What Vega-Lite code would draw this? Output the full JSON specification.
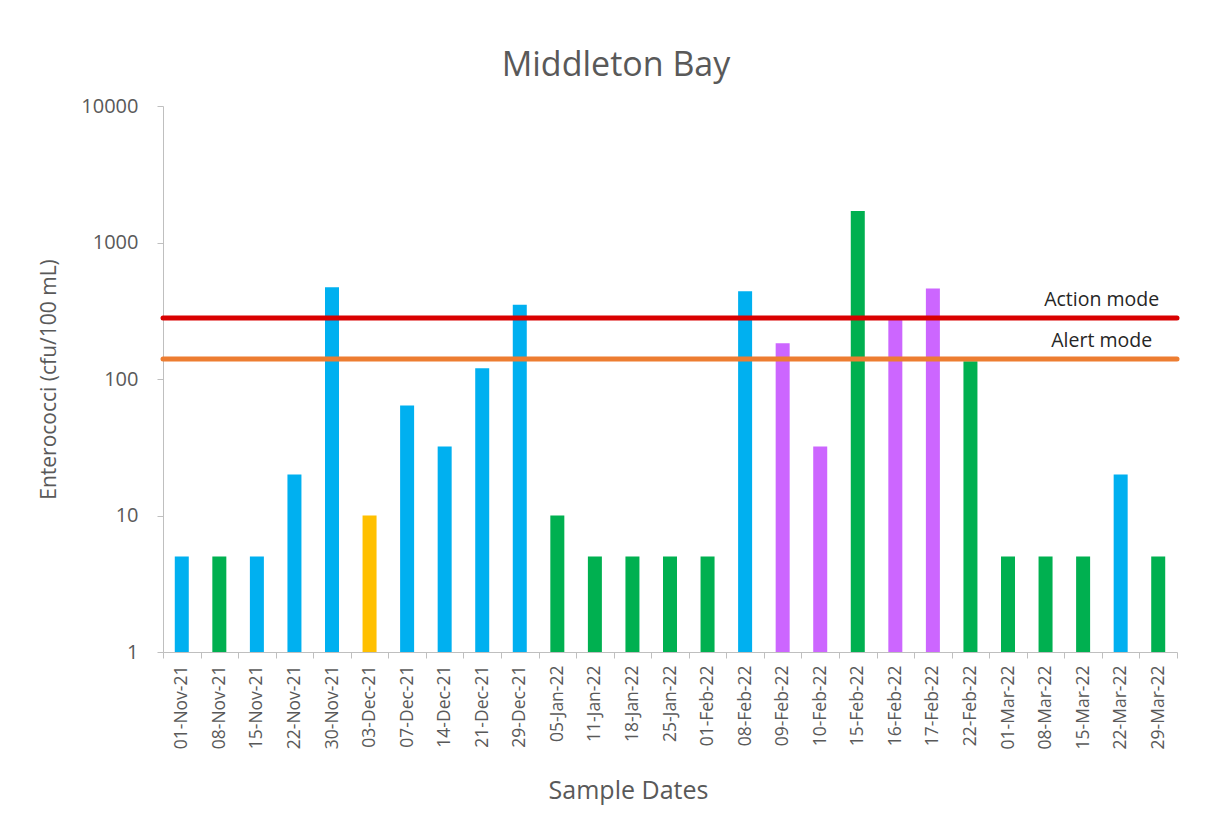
{
  "$schema": "https://vega.github.io/schema/vega-lite/v6.json",
  "width": 1014,
  "height": 546,
  "autosize": {"type": "none"},
  "padding": {"left": 163, "top": 106, "right": 47, "bottom": 185},
  "background": "white",
  "config": {"view": {"stroke": null}, "font": "Open Sans"},
  "title": {"text": "Middleton Bay", "fontSize": 34, "fontWeight": "normal", "color": "#595959", "anchor": "middle", "dx": -54, "offset": 13, "font": "Open Sans"},
  "datasets": {
    "samples": [
      {"date": "01-Nov-21", "enterococci": 5, "category": "A"},
      {"date": "08-Nov-21", "enterococci": 5, "category": "B"},
      {"date": "15-Nov-21", "enterococci": 5, "category": "A"},
      {"date": "22-Nov-21", "enterococci": 20, "category": "A"},
      {"date": "30-Nov-21", "enterococci": 470, "category": "A"},
      {"date": "03-Dec-21", "enterococci": 10, "category": "C"},
      {"date": "07-Dec-21", "enterococci": 64, "category": "A"},
      {"date": "14-Dec-21", "enterococci": 32, "category": "A"},
      {"date": "21-Dec-21", "enterococci": 120, "category": "A"},
      {"date": "29-Dec-21", "enterococci": 350, "category": "A"},
      {"date": "05-Jan-22", "enterococci": 10, "category": "B"},
      {"date": "11-Jan-22", "enterococci": 5, "category": "B"},
      {"date": "18-Jan-22", "enterococci": 5, "category": "B"},
      {"date": "25-Jan-22", "enterococci": 5, "category": "B"},
      {"date": "01-Feb-22", "enterococci": 5, "category": "B"},
      {"date": "08-Feb-22", "enterococci": 440, "category": "A"},
      {"date": "09-Feb-22", "enterococci": 183, "category": "D"},
      {"date": "10-Feb-22", "enterococci": 32, "category": "D"},
      {"date": "15-Feb-22", "enterococci": 1700, "category": "B"},
      {"date": "16-Feb-22", "enterococci": 270, "category": "D"},
      {"date": "17-Feb-22", "enterococci": 460, "category": "D"},
      {"date": "22-Feb-22", "enterococci": 135, "category": "B"},
      {"date": "01-Mar-22", "enterococci": 5, "category": "B"},
      {"date": "08-Mar-22", "enterococci": 5, "category": "B"},
      {"date": "15-Mar-22", "enterococci": 5, "category": "B"},
      {"date": "22-Mar-22", "enterococci": 20, "category": "A"},
      {"date": "29-Mar-22", "enterococci": 5, "category": "B"}
    ],
    "thresholds": [
      {"label": "Action mode", "value": 280},
      {"label": "Alert mode", "value": 140}
    ]
  },
  "layer": [
    {
      "data": {"name": "samples"},
      "mark": {"type": "bar", "size": 14},
      "encoding": {
        "x": {
          "field": "date", "type": "nominal", "sort": null,
          "scale": {"paddingInner": 0, "paddingOuter": 0},
          "axis": {
            "title": "Sample Dates", "labelAngle": -90, "tickBand": "extent", "ticks": true, "tickSize": 6,
            "labelPadding": 7, "labelFontSize": 17.5, "labelColor": "#595959", "labelFont": "Open Sans",
            "titleFontSize": 25, "titleFontWeight": "normal", "titleColor": "#595959", "titleFont": "Open Sans", "titlePadding": 30,
            "titleX": 465,
            "domainColor": "#BFBFBF", "tickColor": "#BFBFBF", "grid": false
          }
        },
        "y": {
          "field": "enterococci", "type": "quantitative",
          "scale": {"type": "log", "domain": [1, 10000]},
          "axis": {
            "title": "Enterococci (cfu/100 mL)", "values": [1, 10, 100, 1000, 10000], "format": "d",
            "grid": false, "tickSize": 6, "labelPadding": 19, "labelFontSize": 20, "labelColor": "#595959", "labelFont": "Open Sans",
            "titleFontSize": 21, "titleFontWeight": "normal", "titleColor": "#595959", "titleFont": "Open Sans", "titlePadding": 21,
            "domainColor": "#BFBFBF", "tickColor": "#BFBFBF"
          }
        },
        "y2": {"datum": 1},
        "color": {
          "field": "category", "type": "nominal",
          "scale": {"domain": ["A", "B", "C", "D"], "range": ["#00B0F0", "#00B050", "#FFC000", "#CC66FF"]},
          "legend": null
        }
      }
    },
    {
      "data": {"name": "thresholds"},
      "mark": {"type": "rule", "strokeWidth": 5, "strokeCap": "round"},
      "encoding": {
        "y": {"field": "value", "type": "quantitative"},
        "stroke": {
          "field": "label", "type": "nominal",
          "scale": {"domain": ["Action mode", "Alert mode"], "range": ["#D90000", "#ED7D31"]},
          "legend": null
        }
      }
    },
    {
      "data": {"name": "thresholds"},
      "mark": {"type": "text", "fontSize": 19.5, "color": "#262626", "baseline": "alphabetic", "dy": -12, "dx": -19, "font": "Open Sans"},
      "encoding": {
        "x": {"datum": "22-Mar-22"},
        "y": {"field": "value", "type": "quantitative"},
        "text": {"field": "label"}
      }
    }
  ]
}
